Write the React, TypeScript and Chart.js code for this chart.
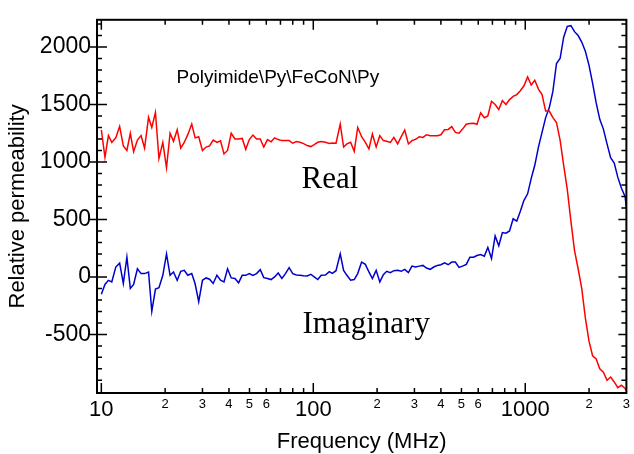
import React, { useEffect, useRef } from 'react';
import { Chart, registerables } from 'chart.js';

Chart.register(...registerables);

// Frequency sweep (MHz)
const frequencyMHz = [
  10, 10.4, 10.8, 11.2, 11.7, 12.2, 12.7, 13.2, 13.7, 14.2,
  14.8, 15.4, 16.0, 16.7, 17.3, 18.0, 18.7, 19.5, 20.3, 21.1,
  21.9, 22.8, 23.7, 24.6, 25.6, 26.7, 27.7, 28.8, 30.0, 31.2,
  32.4, 33.7, 35.1, 36.5, 37.9, 39.4, 41.0, 42.7, 44.4, 46.2,
  48.0, 49.9, 51.9, 54.0, 56.2, 58.4, 60.8, 63.2, 65.7, 68.3,
  71.1, 73.9, 76.9, 80.0, 83.2, 86.5, 90.0, 93.6, 97.3, 101,
  105, 109, 114, 119, 123, 128, 134, 139, 144, 150,
  156, 162, 169, 176, 183, 190, 198, 206, 214, 222,
  231, 240, 250, 260, 270, 281, 292, 304, 316, 329,
  342, 356, 370, 385, 400, 416, 433, 450, 468, 487,
  506, 527, 548, 570, 592, 616, 641, 666, 693, 721,
  750, 780, 811, 843, 877, 912, 948, 986, 1026, 1067,
  1109, 1154, 1200, 1248, 1298, 1350, 1404, 1460, 1518, 1579,
  1642, 1708, 1776, 1847, 1921, 1998, 2078, 2161, 2247, 2337,
  2431, 2528, 2629, 2734, 2844, 2957, 3000,
];

// Real part of relative permeability
const realPermeability = [
  1280, 1040, 1230, 1170, 1210, 1310, 1140, 1100, 1250, 1090,
  1190, 1230, 1120, 1390, 1300, 1430, 1030, 1170, 950, 1250,
  1180, 1280, 1120, 1170, 1240, 1330, 1210, 1220, 1100, 1130,
  1140, 1190, 1170, 1185, 1070, 1100, 1250, 1200, 1200, 1205,
  1110, 1195, 1234, 1200, 1200, 1130, 1195, 1175, 1210, 1195,
  1186, 1186, 1186, 1163, 1177, 1171, 1160, 1143, 1134, 1151,
  1171, 1177, 1171, 1160, 1166, 1163, 1330, 1130, 1157, 1171,
  1093, 1300, 1220, 1171, 1114, 1243, 1130, 1229, 1186, 1180,
  1170, 1214, 1157, 1220, 1277, 1157, 1186, 1197, 1220, 1214,
  1237, 1229, 1229, 1229, 1237, 1280, 1283, 1308, 1257, 1251,
  1286, 1328, 1334, 1337, 1328, 1428, 1385, 1400, 1528, 1500,
  1457, 1534, 1500, 1543, 1571, 1586, 1620, 1663, 1740, 1670,
  1711, 1634, 1586, 1443, 1443, 1386, 1343, 1191, 971, 760,
  486, 229, 71, -100, -357, -557, -686, -714, -800, -829,
  -900, -871, -914, -963, -943, -971, -986,
];

// Imaginary part of relative permeability
const imaginaryPermeability = [
  -150, -66, -30, -43, 86, 120, -57, 171, -100, -66,
  71, 29, 29, 43, -300, -106, -94, 14, 200, 14,
  43, -29, 49, 57, 14, 29, -60, -215, -29, -9,
  -20, -57, 14, -29, -43, 71, -9, -14, -51, 14,
  14, 29, 14, 29, 63, -6, -14, -23, 0, 34,
  -14, 29, 80, 29, 17, 14, 11, 9, 23, 0,
  -23, 14, 17, 46, 31, 54, 200, 57, 14, -29,
  -23, 29, 129, 109, 43, -14, 57, -43, 20, 49,
  37, 54, 57, 49, 66, 37, 94, 86, 94, 100,
  77, 66, 86, 100, 106, 123, 106, 129, 129, 83,
  94, 109, 171, 171, 186, 194, 180, 257, 160, 357,
  271, 386, 380, 400, 506, 486, 571, 666, 723, 857,
  971, 1129, 1257, 1386, 1471, 1614, 1857, 1900, 2086, 2180,
  2186, 2134, 2100, 2043, 1963, 1843, 1686, 1514, 1371, 1286,
  1157, 1037, 991, 866, 771, 700, 600,
];

const xTickValues = [
  10, 20, 30, 40, 50, 60, 70, 80, 90,
  100, 200, 300, 400, 500, 600, 700, 800, 900,
  1000, 2000, 3000,
];
const xTickLabels = [
  '10', '2', '3', '4', '5', '6', '', '', '',
  '100', '2', '3', '4', '5', '6', '', '', '',
  '1000', '2', '3',
];
const xMajorValues = [10, 100, 1000];
const yTickValues = [-500, 0, 500, 1000, 1500, 2000];
const yMinorValues = [
  -900, -800, -700, -600, -500, -400, -300, -200, -100, 0,
  100, 200, 300, 400, 500, 600, 700, 800, 900, 1000,
  1100, 1200, 1300, 1400, 1500, 1600, 1700, 1800, 1900, 2000,
  2100, 2200,
];

const sampleLabel = 'Polyimide\\Py\\FeCoN\\Py';
const realLabel = 'Real';
const imaginaryLabel = 'Imaginary';

const SANS = '"Liberation Sans", Arial, Helvetica, sans-serif';
const SERIF = '"Liberation Serif", "Times New Roman", Times, serif';

const framePlugin = {
  id: 'frameTicks',
  afterDraw(chart: any) {
    const { ctx, chartArea, scales } = chart;
    const { left, right, top, bottom } = chartArea;
    const xs = scales.x;
    const ys = scales.y;
    ctx.save();
    ctx.strokeStyle = '#000';
    ctx.lineWidth = 2;
    ctx.strokeRect(left, top, right - left, bottom - top);
    ctx.lineWidth = 1.5;
    ctx.beginPath();
    for (const v of xTickValues) {
      const px = xs.getPixelForValue(v);
      if (px < left + 1 || px > right - 1) continue;
      const len = xMajorValues.includes(v) ? 10 : 5;
      ctx.moveTo(px, bottom);
      ctx.lineTo(px, bottom - len);
      ctx.moveTo(px, top);
      ctx.lineTo(px, top + len);
    }
    for (const v of yMinorValues) {
      const py = ys.getPixelForValue(v);
      if (py < top + 1 || py > bottom - 1) continue;
      const major = v % 500 === 0;
      if (major) {
        ctx.moveTo(left - 7, py);
        ctx.lineTo(left + 10, py);
        ctx.moveTo(right, py);
        ctx.lineTo(right - 8, py);
      } else {
        ctx.moveTo(left, py);
        ctx.lineTo(left + 5, py);
        ctx.moveTo(right, py);
        ctx.lineTo(right - 5, py);
      }
    }
    ctx.stroke();

    ctx.fillStyle = '#000';
    ctx.textBaseline = 'alphabetic';
    ctx.textAlign = 'left';
    ctx.font = `19px ${SANS}`;
    ctx.fillText(sampleLabel, left + 79.5, top + 63.3);
    ctx.font = `31px ${SERIF}`;
    ctx.fillText(realLabel, left + 204.5, top + 168);
    ctx.fillText(imaginaryLabel, left + 205.5, top + 313.5);
    ctx.restore();
  },
};

export default function App() {
  const canvasRef = useRef<HTMLCanvasElement | null>(null);

  useEffect(() => {
    const canvas = canvasRef.current;
    if (!canvas) return;
    const realData = frequencyMHz.map((f, i) => ({ x: f, y: realPermeability[i] }));
    const imagData = frequencyMHz.map((f, i) => ({ x: f, y: imaginaryPermeability[i] }));

    const chart = new Chart(canvas, {
      type: 'line',
      data: {
        datasets: [
          {
            label: 'Real',
            data: realData,
            borderColor: '#ff0000',
            borderWidth: 1.5,
            pointRadius: 0,
            tension: 0,
            fill: false,
          },
          {
            label: 'Imaginary',
            data: imagData,
            borderColor: '#0000cc',
            borderWidth: 1.5,
            pointRadius: 0,
            tension: 0,
            fill: false,
          },
        ],
      },
      options: {
        responsive: false,
        maintainAspectRatio: false,
        devicePixelRatio: 1,
        animation: false,
        events: [],
        layout: {
          autoPadding: false,
          padding: { left: 0, top: 14, right: 2.5, bottom: 0 },
        },
        plugins: {
          legend: { display: false },
          tooltip: { enabled: false },
        },
        scales: {
          x: {
            type: 'logarithmic',
            position: 'bottom',
            min: 9.54,
            max: 3000,
            grid: { display: false, drawTicks: false },
            border: { display: false },
            afterBuildTicks: (s: any) => {
              s.ticks = xTickValues.map((v) => ({ value: v }));
            },
            afterFit: (s: any) => {
              s.height = 61;
            },
            ticks: {
              autoSkip: false,
              maxRotation: 0,
              minRotation: 0,
              padding: 4,
              color: '#000',
              font: (c: any) => {
                const v = c.tick ? c.tick.value : 0;
                return xMajorValues.includes(v)
                  ? { family: SANS, size: 22 }
                  : { family: SANS, size: 13 };
              },
              callback: (value: any) => {
                const i = xTickValues.indexOf(Number(value));
                return i >= 0 ? xTickLabels[i] : '';
              },
            },
            title: {
              display: true,
              text: 'Frequency (MHz)',
              color: '#000',
              font: { family: SANS, size: 22, lineHeight: 1.1 },
              padding: { top: 0, bottom: 0 },
            },
          },
          y: {
            type: 'linear',
            position: 'left',
            min: -1010,
            max: 2237,
            grid: { display: false, drawTicks: false },
            border: { display: false },
            afterBuildTicks: (s: any) => {
              s.ticks = yTickValues.map((v) => ({ value: v }));
            },
            afterFit: (s: any) => {
              s.width = 97;
            },
            ticks: {
              padding: 6,
              color: '#000',
              font: { family: SANS, size: 23 },
              callback: (value: any) => String(value),
            },
            title: {
              display: true,
              text: 'Relative permeability',
              color: '#000',
              font: { family: SANS, size: 22, lineHeight: 1.1 },
              padding: { top: 6, bottom: 0 },
            },
          },
        },
      },
      plugins: [framePlugin],
    });

    return () => {
      chart.destroy();
    };
  }, []);

  return (
    <canvas
      ref={canvasRef}
      width={634}
      height={454}
      style={{ position: 'absolute', left: 0, top: 0, width: 634, height: 454, background: '#fff' }}
    />
  );
}
